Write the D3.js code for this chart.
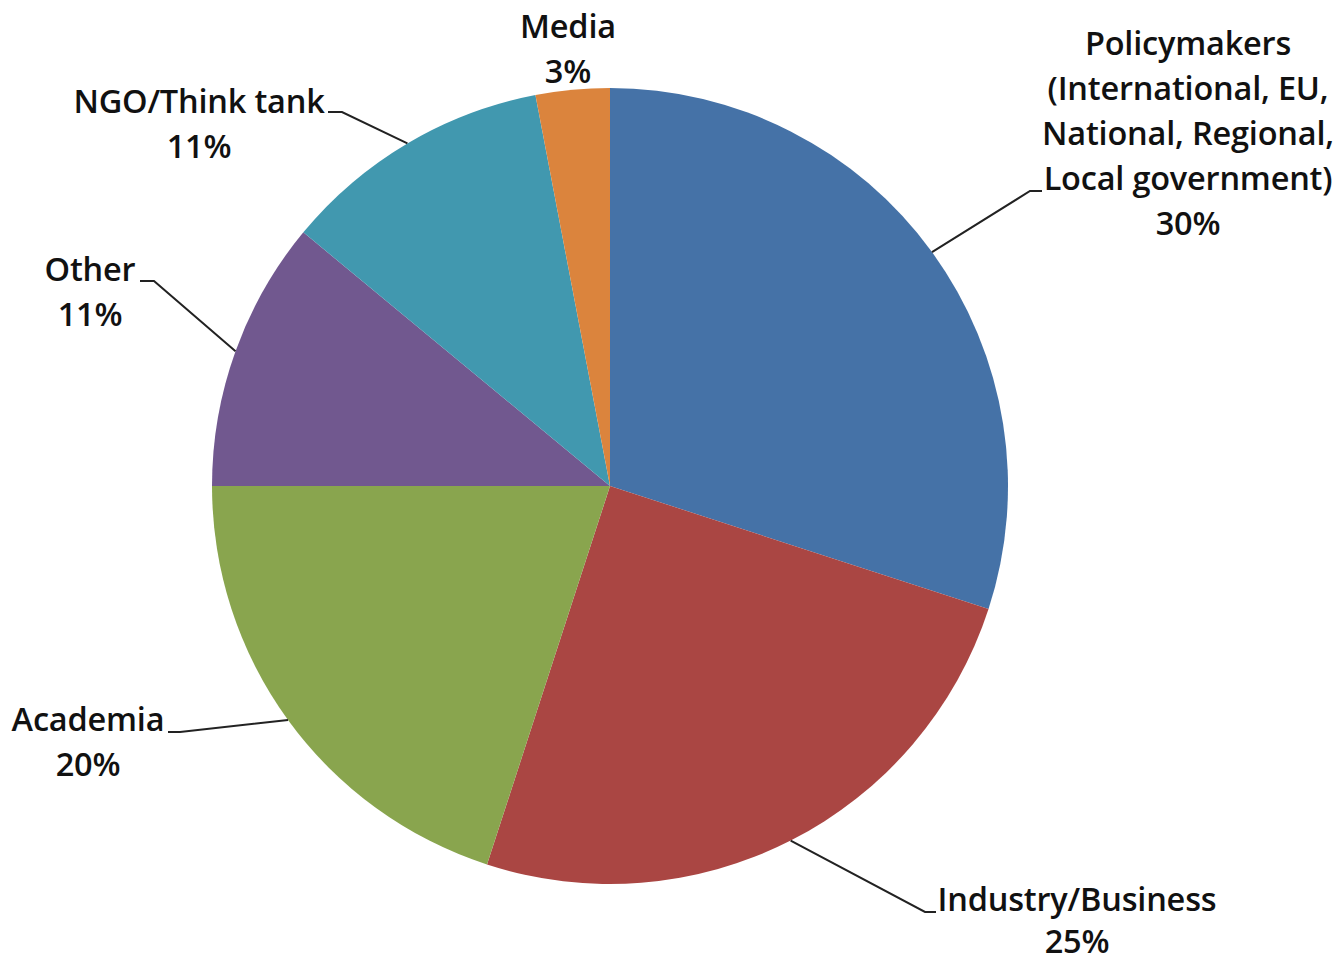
<!DOCTYPE html>
<html>
<head>
<meta charset="utf-8">
<script src="https://cdn.jsdelivr.net/npm/d3@7"></script>
<style>
  html, body { margin: 0; padding: 0; background: #fff; }
  svg { display: block; }
  text { font-family: "Open Sans", Lato, sans-serif; font-weight: 600; fill: #111; }
</style>
</head>
<body>
<svg id="chart" width="1338" height="961"></svg>
<script>
// Audience breakdown by stakeholder group (share of total, %)
const categories = ["Policymakers", "Industry/Business", "Academia", "Other", "NGO/Think tank", "Media"];
const shares = [30, 25, 20, 11, 11, 3];
const labelLines = [
  ["Policymakers", "(International, EU,", "National, Regional,", "Local government)"],
  ["Industry/Business"],
  ["Academia"],
  ["Other"],
  ["NGO/Think tank"],
  ["Media"]
];
const colors = ["#4572A7", "#AA4643", "#89A54E", "#71588F", "#4198AF", "#DB843D"];

// Label placement: text centre x, first baseline y, line step, and leader elbow (null = no leader)
const layout = [
  { x: 1188, y: 55,  step: 45, elbow: [1030, 191], end: [1042, 191] },
  { x: 1077, y: 911, step: 42, elbow: [925, 912],  end: [936, 912] },
  { x: 88,   y: 731, step: 45, elbow: [180, 732],  end: [168, 732] },
  { x: 90,   y: 281, step: 45, elbow: [154, 281],  end: [140, 281] },
  { x: 199,  y: 113, step: 45, elbow: [342, 112],  end: [328, 112] },
  { x: 568,  y: 38,  step: 45, elbow: null,        end: null }
];

const cx = 610, cy = 486, radius = 398;
const svg = d3.select("#chart");
const g = svg.append("g").attr("transform", `translate(${cx},${cy})`);

const pie = d3.pie().sort(null).value(d => d)(shares);
const arc = d3.arc().innerRadius(0).outerRadius(radius);

g.selectAll("path.slice")
  .data(pie)
  .join("path")
  .attr("class", "slice")
  .attr("d", arc)
  .attr("fill", (d, i) => colors[i]);

// Leader lines from the slice's outer edge midpoint to its label
pie.forEach((d, i) => {
  const L = layout[i];
  if (!L.elbow) return;
  const a = (d.startAngle + d.endAngle) / 2;
  const sx = cx + radius * Math.sin(a), sy = cy - radius * Math.cos(a);
  svg.append("path")
    .attr("d", d3.line()([[sx, sy], L.elbow, L.end]))
    .attr("fill", "none")
    .attr("stroke", "#222")
    .attr("stroke-width", 2);
});

// Labels: category name lines followed by percentage
pie.forEach((d, i) => {
  const L = layout[i];
  const lines = labelLines[i].concat([d3.format(".0f")(shares[i]) + "%"]);
  const t = svg.append("text")
    .attr("text-anchor", "middle")
    .attr("font-size", 32.5)
    .attr("letter-spacing", -0.2);
  lines.forEach((s, k) => {
    t.append("tspan").attr("x", L.x).attr("y", L.y + k * L.step).text(s);
  });
});
</script>
</body>
</html>
